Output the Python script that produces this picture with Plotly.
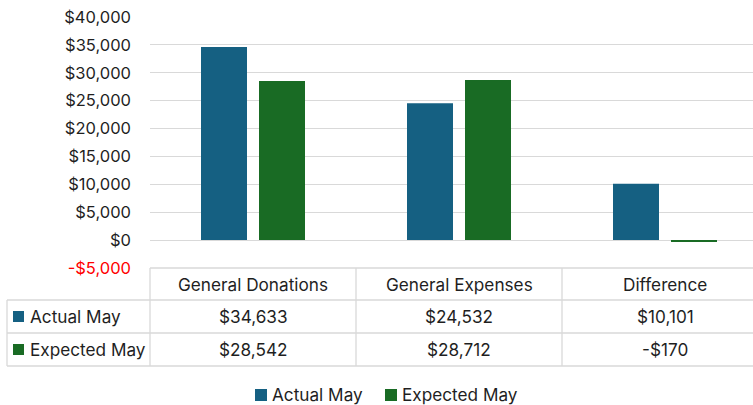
import plotly.graph_objects as go

# ---------------- data ----------------
categories = ["General Donations", "General Expenses", "Difference"]
series_names = ["Actual May", "Expected May"]
actual_may = [34633, 24532, 10101]
expected_may = [28542, 28712, -170]
tick_values = [-5000, 0, 5000, 10000, 15000, 20000, 25000, 30000, 35000, 40000]
tick_labels = ["-$5,000", "$0", "$5,000", "$10,000", "$15,000", "$20,000",
               "$25,000", "$30,000", "$35,000", "$40,000"]

# ---------------- style / layout ----------------
colors = ["#156082", "#196B24"]
W, H = 753, 405
L, T = 150, 17
PLOT_H = 251
PLOT_W = W - L
CAT_PX = 206.0           # pixels per category
FONT = "Inter"
FS = 17.2
TICK_FS = 16.5
TXT = "#1F1F1F"
LINE = "#D9D9D9"


def fx(px):
    return (px - L) / PLOT_W


def fy(py):
    return (T + PLOT_H - py) / PLOT_H


def money(v):
    return f"-${abs(v):,}" if v < 0 else f"${v:,}"


x_idx = list(range(len(categories)))
series_vals = [actual_may, expected_may]
bar_w = 46 / CAT_PX
offsets = [-52 / CAT_PX, 6 / CAT_PX]

fig = go.Figure()
for name, vals, col, off in zip(series_names, series_vals, colors, offsets):
    fig.add_trace(go.Bar(
        x=x_idx, y=vals, name=name, marker_color=col,
        marker_line_width=0, width=bar_w, offset=off,
        showlegend=False, hoverinfo="skip",
    ))

ticktext = [f'<span style="color:#FF0000">{t}</span>' if v < 0 else t
            for v, t in zip(tick_values, tick_labels)]

shapes = []
annotations = []

# table geometry (pixels)
row_edges = [268, 300, 333, 366]
left_edge = 7
lw = 1.3
shapes.append(dict(type="line", xref="paper", yref="paper",
                   x0=fx(L), x1=1, y0=fy(row_edges[0]), y1=fy(row_edges[0]),
                   line=dict(color=LINE, width=lw)))
for ry in row_edges[1:]:
    shapes.append(dict(type="line", xref="paper", yref="paper",
                       x0=fx(left_edge), x1=1, y0=fy(ry), y1=fy(ry),
                       line=dict(color=LINE, width=lw)))
shapes.append(dict(type="line", xref="paper", yref="paper",
                   x0=fx(left_edge), x1=fx(left_edge),
                   y0=fy(row_edges[1]), y1=fy(row_edges[-1]),
                   line=dict(color=LINE, width=lw)))
for i in range(len(categories)):
    bx = fx(L + i * CAT_PX)
    shapes.append(dict(type="line", xref="paper", yref="paper",
                       x0=bx, x1=bx, y0=fy(row_edges[0]), y1=fy(row_edges[-1]),
                       line=dict(color=LINE, width=lw)))

# header
for i, c in enumerate(categories):
    annotations.append(dict(x=i, xref="x", y=fy((row_edges[0] + row_edges[1]) / 2),
                            yref="paper", text=c, showarrow=False,
                            font=dict(family=FONT, size=FS, color=TXT),
                            xanchor="center", yanchor="middle"))
# body rows
for r, (name, vals, col) in enumerate(zip(series_names, series_vals, colors)):
    cy = (row_edges[r + 1] + row_edges[r + 2]) / 2
    shapes.append(dict(type="rect", xref="paper", yref="paper",
                       x0=fx(13), x1=fx(24), y0=fy(cy - 5.5), y1=fy(cy + 5.5),
                       fillcolor=col, line=dict(width=0)))
    annotations.append(dict(x=fx(28), xref="paper", y=fy(cy), yref="paper",
                            text=name, showarrow=False,
                            font=dict(family=FONT, size=FS, color=TXT),
                            xanchor="left", yanchor="middle"))
    for i, v in enumerate(vals):
        annotations.append(dict(x=i, xref="x", y=fy(cy), yref="paper",
                                text=money(v), showarrow=False,
                                font=dict(family=FONT, size=FS, color=TXT),
                                xanchor="center", yanchor="middle"))

# legend (bottom)
leg_y = 394.5
leg_x = [255, 385]
for name, col, lx in zip(series_names, colors, leg_x):
    shapes.append(dict(type="rect", xref="paper", yref="paper",
                       x0=fx(lx), x1=fx(lx + 12), y0=fy(leg_y - 5.5), y1=fy(leg_y + 6.5),
                       fillcolor=col, line=dict(width=0)))
    annotations.append(dict(x=fx(lx + 15), xref="paper", y=fy(leg_y), yref="paper",
                            text=name, showarrow=False,
                            font=dict(family=FONT, size=FS, color=TXT),
                            xanchor="left", yanchor="middle"))

fig.update_layout(
    width=W, height=H,
    margin=dict(l=L, r=0, t=T, b=H - T - PLOT_H, pad=0),
    paper_bgcolor="white", plot_bgcolor="white",
    barmode="overlay",
    font=dict(family=FONT, size=FS, color=TXT),
    xaxis=dict(range=[-0.5, -0.5 + PLOT_W / CAT_PX], showticklabels=False,
               showgrid=False, zeroline=False, showline=False, fixedrange=True),
    yaxis=dict(range=[-5000, 40000], tickmode="array", tickvals=tick_values,
               ticktext=ticktext, showgrid=True, gridcolor=LINE, gridwidth=lw,
               zeroline=False, showline=False, ticks="", ticklabelstandoff=18,
               tickfont=dict(family=FONT, size=TICK_FS, color=TXT), fixedrange=True),
    shapes=shapes,
    annotations=annotations,
    showlegend=False,
)

fig.write_html("out.html", config={"displayModeBar": False},
               post_script="document.body.style.margin='0';")
